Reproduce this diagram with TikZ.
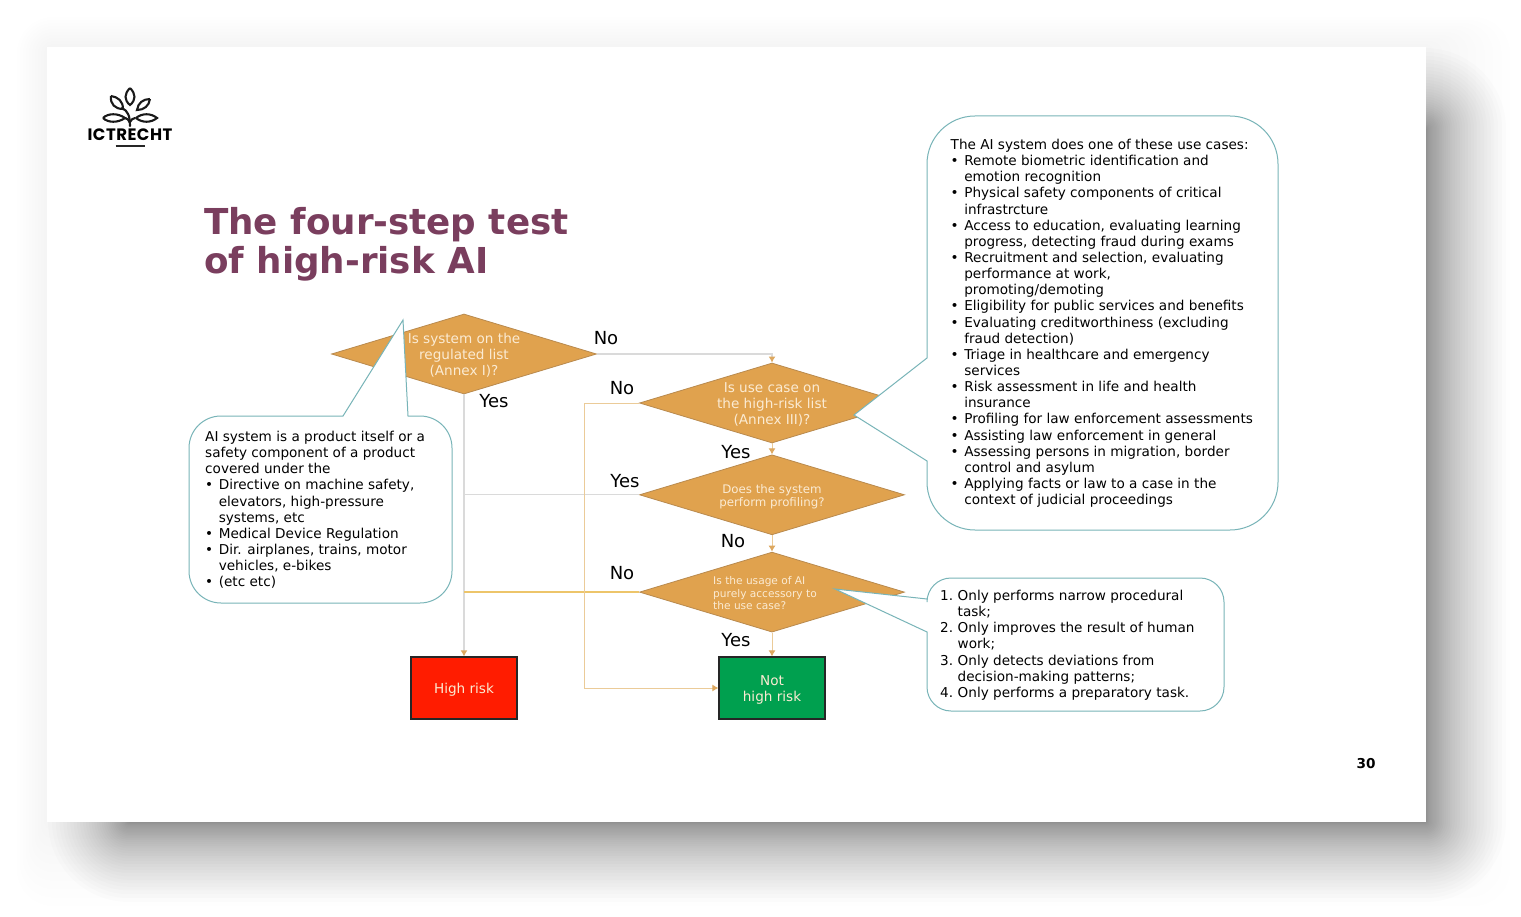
\documentclass[tikz,border=0pt]{standalone}
\usepackage{fontspec}
\setmainfont{DejaVu Sans}
\newfontfamily\logofont[LetterSpace=3]{Poppins}
\usepackage{tikz}
\usetikzlibrary{positioning,arrows.meta,shapes.geometric}
\usepackage{xcolor}
\definecolor{titlecol}{HTML}{7A3E5E}
\definecolor{decidecol}{HTML}{E0A24E}
\definecolor{decideedge}{HTML}{B98A4E}
\definecolor{linegray}{HTML}{DADADA}
\definecolor{linetan}{HTML}{EBCB98}
\definecolor{lineyellow}{HTML}{EDC56A}
\definecolor{tiptan}{HTML}{DDA860}
\definecolor{calloutcol}{HTML}{78B4B8}
\definecolor{palefont}{HTML}{FBEBD3}
\definecolor{highred}{HTML}{FF1C00}
\definecolor{lowgreen}{HTML}{00A04F}
\newcommand{\bul}{\makebox[13.6pt][l]{•}}
\newcommand{\ind}{\hspace*{13.6pt}}
\newcommand{\num}[1]{\makebox[17.5pt][l]{#1.}}
\newcommand{\numind}{\hspace*{17.5pt}}

\begin{document}
\begin{tikzpicture}[x=1pt,y=-1pt,
  decide/.style={diamond,draw=decideedge,fill=decidecol,line width=0.8pt,inner sep=0pt,minimum width=265pt,minimum height=80pt,aspect=3.3},
  asktext/.style={text=palefont,align=center,inner sep=0pt,yshift=-1pt,font=\fontsize{13.6}{16}\selectfont},
  outcome/.style={draw=black!85,line width=1.2pt,minimum width=106pt,minimum height=62pt,inner sep=0pt,text=white,align=center,font=\fontsize{13.6}{16}\selectfont},
  answer/.style={inner sep=0pt,font=\fontsize{18}{20}\selectfont},
  callout/.style={draw=calloutcol,fill=white,line width=1pt},
  notes/.style={anchor=north west,align=left,inner sep=0pt,font=\fontsize{13.6}{16.14}\selectfont},
  flowgray/.style={draw=linegray,line width=1.3pt},
  flowtan/.style={draw=linetan,line width=1pt},
  tip/.style={-{Latex[length=6pt,width=7pt,color=tiptan]}},
  leaf/.style={draw=black!90,line width=2.1pt},
  stem/.style={draw=black!90,line width=2.1pt,line cap=round}]
\useasboundingbox (0,0) rectangle (1521,917);
\fill[white] (0,0) rectangle (1521,917);
\foreach \i in {30,27,...,3}{
  \fill[black,opacity=0.005,rounded corners=\i*1pt+6pt] (47-\i,47-\i) rectangle (1426+2.8*\i,822+2.8*\i);
}
\foreach \i in {40,39,...,1}{
  \pgfmathsetmacro{\spread}{\i*\i/20}
  \fill[black,opacity=0.011,rounded corners={\spread*1pt+1pt}] (128-\spread,128-\spread) rectangle (1426+\spread,822+\spread);
}
\fill[white] (47,47) rectangle (1426,822);

\draw[leaf] (130,88) .. controls (124,94) and (124,100) .. (130,105) .. controls (136,100) and (136,94) .. (130,88);
\draw[leaf] (111,96) .. controls (110,104) and (115,109) .. (123,109) .. controls (123,101) and (118,97) .. (111,96);
\draw[leaf] (150,99) .. controls (143,99) and (138,103) .. (137,110) .. controls (144,110) and (149,106) .. (150,99);
\draw[leaf] (103,118) .. controls (108,113) and (118,113) .. (125,118) .. controls (118,123) and (108,123) .. (103,118);
\draw[leaf] (136,118) .. controls (142,113) and (151,113) .. (157,118) .. controls (151,123) and (142,123) .. (136,118);
\draw[stem] (122,108) .. controls (128,111) and (130,116) .. (130,126);
\draw[stem] (125,118) .. controls (127,118) and (129,120) .. (130,123);
\draw[stem] (135,118) .. controls (133,118) and (131,120) .. (130,122);
\node[font=\logofont\bfseries\fontsize{16.5}{18}\selectfont,inner sep=0pt] (brand) at (130,135) {ICTRECHT};
\draw[line width=1.9pt,black!85] (115.5,146) -- (144.5,146);

\node[text=titlecol,anchor=north west,align=left,inner sep=0pt,font=\bfseries\fontsize{35.7}{39}\selectfont] (title) at (204,207) {The four-step test\\of high-risk AI};
\node[font=\bfseries\fontsize{13.6}{15}\selectfont,inner sep=0pt] (page) at (1366,764) {30};

\node[decide] (q1) at (464,354) {};
\node[decide] (q2) at (772,403) {};
\node[decide,below=11pt of q2] (q3) {};
\node[decide,below=16.5pt of q3] (q4) {};
\node[outcome,fill=highred] (high) at (464,688) {};
\node[outcome,fill=lowgreen] (low) at (772,688) {};

\draw[flowgray,tip] (q1.east) -| (q2.north);
\draw[flowgray,tip] (q1.south) -- (high.north);
\draw[flowgray] (q3.west) -- (q3.west -| q1.south);
\draw[draw=lineyellow,line width=1.4pt] (q4.west) -- (q4.west -| q1.south);
\draw[flowtan,tip] (q2.west) -- ++(-55,0) |- (low.west);
\draw[flowtan,tip] (q2.south) -- (q3.north);
\draw[flowtan,tip] (q3.south) -- (q4.north);
\draw[flowtan,tip] (q4.south) -- (low.north);

\draw[callout] (343,416) -- (403,320) -- (408,416) [rounded corners=32pt] -- (452,416) -- (452,603) -- (189,603) -- (189,416) [sharp corners] -- cycle;
\draw[callout] (927,358) -- (854,415) -- (927,461) [rounded corners=48pt] -- (927,530) -- (1278,530) -- (1278,116) -- (927,116) [sharp corners] -- cycle;
\draw[callout] (927,599) -- (835,589) -- (927,632) [rounded corners=24pt] -- (927,711) -- (1224,711) -- (1224,578) -- (927,578) [sharp corners] -- cycle;

\node[asktext] (q1text) at (q1) {Is system on the\\regulated list\\(Annex I)?};
\node[asktext] (q2text) at (q2) {Is use case on\\the high-risk list\\(Annex III)?};
\node[asktext,yshift=-1pt,font=\fontsize{11.8}{13.2}\selectfont] (q3text) at (q3) {Does the system\\perform profiling?};
\node[asktext,align=left,font=\fontsize{10.6}{12.9}\selectfont,xshift=-7pt] (q4text) at (q4) {Is the usage of AI\\purely accessory to\\the use case?};
\node[text=palefont,inner sep=0pt,yshift=-2pt,font=\fontsize{13.6}{16}\selectfont] (hightext) at (high) {High risk};
\node[text=palefont,align=center,inner sep=0pt,yshift=-2pt,font=\fontsize{13.6}{16}\selectfont] (lowtext) at (low) {Not\\high risk};

\node[answer] (no1) at (606,338) {No};
\node[answer] (no2) at (622,388) {No};
\node[answer] (yes1) at (494,401) {Yes};
\node[answer] (yes2) at (736,452) {Yes};
\node[answer] (yes3) at (625,481) {Yes};
\node[answer] (no3) at (733,541) {No};
\node[answer] (no4) at (622,573) {No};
\node[answer] (yes4) at (736,640) {Yes};

\node[notes] (leftnotes) at (205,431) {AI system is a product itself or a\\
safety component of a product\\
covered under the\\
\bul Directive on machine safety,\\
\ind elevators, high-pressure\\
\ind systems, etc\\
\bul Medical Device Regulation\\
\bul Dir. airplanes, trains, motor\\
\ind vehicles, e-bikes\\
\bul (etc etc)};

\node[notes] (rightnotes) at (950.5,139) {The AI system does one of these use cases:\\
\bul Remote biometric identification and\\
\ind emotion recognition\\
\bul Physical safety components of critical\\
\ind infrastrcture\\
\bul Access to education, evaluating learning\\
\ind progress, detecting fraud during exams\\
\bul Recruitment and selection, evaluating\\
\ind performance at work,\\
\ind promoting/demoting\\
\bul Eligibility for public services and benefits\\
\bul Evaluating creditworthiness (excluding\\
\ind fraud detection)\\
\bul Triage in healthcare and emergency\\
\ind services\\
\bul Risk assessment in life and health\\
\ind insurance\\
\bul Profiling for law enforcement assessments\\
\bul Assisting law enforcement in general\\
\bul Assessing persons in migration, border\\
\ind control and asylum\\
\bul Applying facts or law to a case in the\\
\ind context of judicial proceedings};

\node[notes] (lownotes) at (940,590) {\num{1}Only performs narrow procedural\\
\numind task;\\
\num{2}Only improves the result of human\\
\numind work;\\
\num{3}Only detects deviations from\\
\numind decision-making patterns;\\
\num{4}Only performs a preparatory task.};
\end{tikzpicture}
\end{document}
